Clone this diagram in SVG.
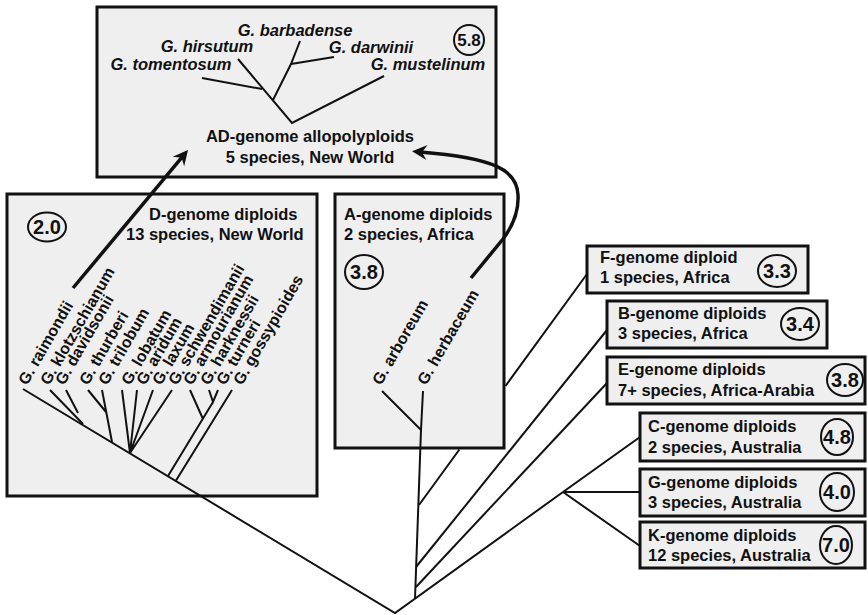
<svg xmlns="http://www.w3.org/2000/svg" width="868" height="615" viewBox="0 0 868 615">
<defs>
<style>
.box{fill:#efefef;stroke:#111;stroke-width:3}
.t{font-family:"Liberation Sans",Arial,Helvetica,sans-serif;font-weight:bold;font-size:16.5px;fill:#111}
.sp{font-style:italic}
.rl{font-size:16px}
.num{font-size:20px;text-anchor:middle}
.mid{text-anchor:middle}
.c{fill:none;stroke:#111;stroke-width:2}
.br{fill:none;stroke:#111;stroke-width:2}
.arr{fill:none;stroke:#111;stroke-width:3.5}
</style>
<marker id="ah" markerUnits="userSpaceOnUse" markerWidth="20" markerHeight="20" viewBox="-16 -10 20 20" refX="-8" refY="0" orient="auto">
<path d="M0,0 L-15,-7.5 L-10,0 L-15,7.5 Z" fill="#111"/>
</marker>
</defs>
<rect width="868" height="615" fill="#fff"/>

<g id="node-AD">
<rect class="box" x="97" y="7" width="399" height="170"/>
<text class="t sp mid" x="295" y="36">G. barbadense</text>
<text class="t sp mid" x="207" y="52">G. hirsutum</text>
<text class="t sp mid" x="371" y="53">G. darwinii</text>
<text class="t sp mid" x="171" y="70">G. tomentosum</text>
<text class="t sp mid" x="428" y="70">G. mustelinum</text>
<ellipse class="c" cx="469" cy="40" rx="15" ry="15"/>
<text class="t num" x="469" y="46" style="font-size:17px">5.8</text>
<path class="br" d="M238,59 L292,123 L384,76 M202,78 L262,89 M273,100 L291,64 L300,41 M291,64 L334,57"/>
<text class="t mid" x="310" y="142">AD-genome allopolyploids</text>
<text class="t mid" x="310" y="163">5 species, New World</text>
</g>

<g id="node-D">
<rect class="box" x="7" y="194" width="310" height="302"/>
<ellipse class="c" cx="47" cy="227" rx="19" ry="14.5"/>
<text class="t num" x="47" y="234">2.0</text>
<text class="t" x="149" y="220">D-genome diploids</text>
<text class="t" x="126" y="240">13 species, New World</text>
<text class="t rl" transform="translate(27,386) rotate(-60)">G. raimondii</text>
<text class="t rl" transform="translate(49,386) rotate(-60)">G. klotzschianum</text>
<text class="t rl" transform="translate(64,386) rotate(-60)">G. davidsonii</text>
<text class="t rl" transform="translate(88,386) rotate(-60)">G. thurberi</text>
<text class="t rl" transform="translate(107,386) rotate(-60)">G. trilobum</text>
<text class="t rl" transform="translate(130,386) rotate(-60)">G. lobatum</text>
<text class="t rl" transform="translate(145,386) rotate(-60)">G. aridum</text>
<text class="t rl" transform="translate(161,386) rotate(-60)">G. laxum</text>
<text class="t rl" transform="translate(177,386) rotate(-60)">G. schwendimanii</text>
<text class="t rl" transform="translate(192,386) rotate(-60)">G. armourianum</text>
<text class="t rl" transform="translate(209,386) rotate(-60)">G. harknessii</text>
<text class="t rl" transform="translate(225,386) rotate(-60)">G. turneri</text>
<text class="t rl" transform="translate(242,386) rotate(-60)">G. gossypioides</text>
<path class="br" d="M50,390 L83,424 M66,390 L78,413 M88,390 L106,412 M102,390 L112,442 M122,390 L130,453 L137,390 M153,390 L130,453 L172,390 M190,390 L203,419 M209,390 L213,402 L218,390 M213,402 L168,476 M232,390 L176,480.5"/>
</g>

<g id="node-A">
<rect class="box" x="335" y="194" width="169" height="254"/>
<text class="t" x="344" y="220">A-genome diploids</text>
<text class="t" x="344" y="240">2 species, Africa</text>
<ellipse class="c" cx="364" cy="272" rx="19" ry="17"/>
<text class="t num" x="364" y="279">3.8</text>
<text class="t rl" transform="translate(381,386) rotate(-60)">G. arboreum</text>
<text class="t rl" transform="translate(426,386) rotate(-60)">G. herbaceum</text>
<path class="br" d="M382,391 L421,430 L423,391"/>
</g>

<g id="node-F">
<rect class="box" x="587" y="246" width="221" height="47"/>
<text class="t" x="600" y="263">F-genome diploid</text>
<text class="t" x="600" y="283">1 species, Africa</text>
<ellipse class="c" cx="777" cy="271" rx="19" ry="16"/>
<text class="t num" x="777" y="278">3.3</text>
</g>

<g id="node-B">
<rect class="box" x="607" y="301" width="220" height="47"/>
<text class="t" x="618" y="319">B-genome diploids</text>
<text class="t" x="618" y="339">3 species, Africa</text>
<ellipse class="c" cx="800" cy="324" rx="19" ry="16"/>
<text class="t num" x="800" y="331">3.4</text>
</g>

<g id="node-E">
<rect class="box" x="607" y="357" width="258" height="47"/>
<text class="t" x="618" y="375">E-genome diploids</text>
<text class="t" x="618" y="396">7+ species, Africa-Arabia</text>
<ellipse class="c" cx="845" cy="380" rx="18" ry="16"/>
<text class="t num" x="845" y="387">3.8</text>
</g>

<g id="node-C">
<rect class="box" x="640" y="413" width="225" height="48"/>
<text class="t" x="648" y="432">C-genome diploids</text>
<text class="t" x="648" y="453">2 species, Australia</text>
<ellipse class="c" cx="837" cy="437" rx="16" ry="18"/>
<text class="t num" x="837" y="444">4.8</text>
</g>

<g id="node-G">
<rect class="box" x="640" y="469" width="225" height="47"/>
<text class="t" x="648" y="488">G-genome diploids</text>
<text class="t" x="648" y="508">3 species, Australia</text>
<ellipse class="c" cx="837" cy="492" rx="17" ry="19"/>
<text class="t num" x="837" y="499">4.0</text>
</g>

<g id="node-K">
<rect class="box" x="640" y="522" width="225" height="46"/>
<text class="t" x="648" y="541">K-genome diploids</text>
<text class="t" x="648" y="561">12 species, Australia</text>
<ellipse class="c" cx="836" cy="545" rx="16" ry="19"/>
<text class="t num" x="836" y="552">7.0</text>
</g>

<g id="connectors">
<path class="br" d="M23,389 L395,613 L563,492"/>
<path class="br" d="M421,430 L415,599"/>
<path class="br" d="M419,505 L459.4,449.5 M505.5,386 L587,274"/>
<path class="br" d="M416,567 L607,330"/>
<path class="br" d="M416,587 L607,383"/>
<path class="br" d="M563,492 L640,437 M563,492 L640,492 M563,492 L640,546"/>
<path class="arr" d="M73,288 L182.9,156.1" marker-end="url(#ah)"/>
<path class="arr" d="M471,278 L503,239 C512,227 519,212 518,195 C517,170 495,158 420,152" marker-end="url(#ah)"/>
</g>
</svg>
